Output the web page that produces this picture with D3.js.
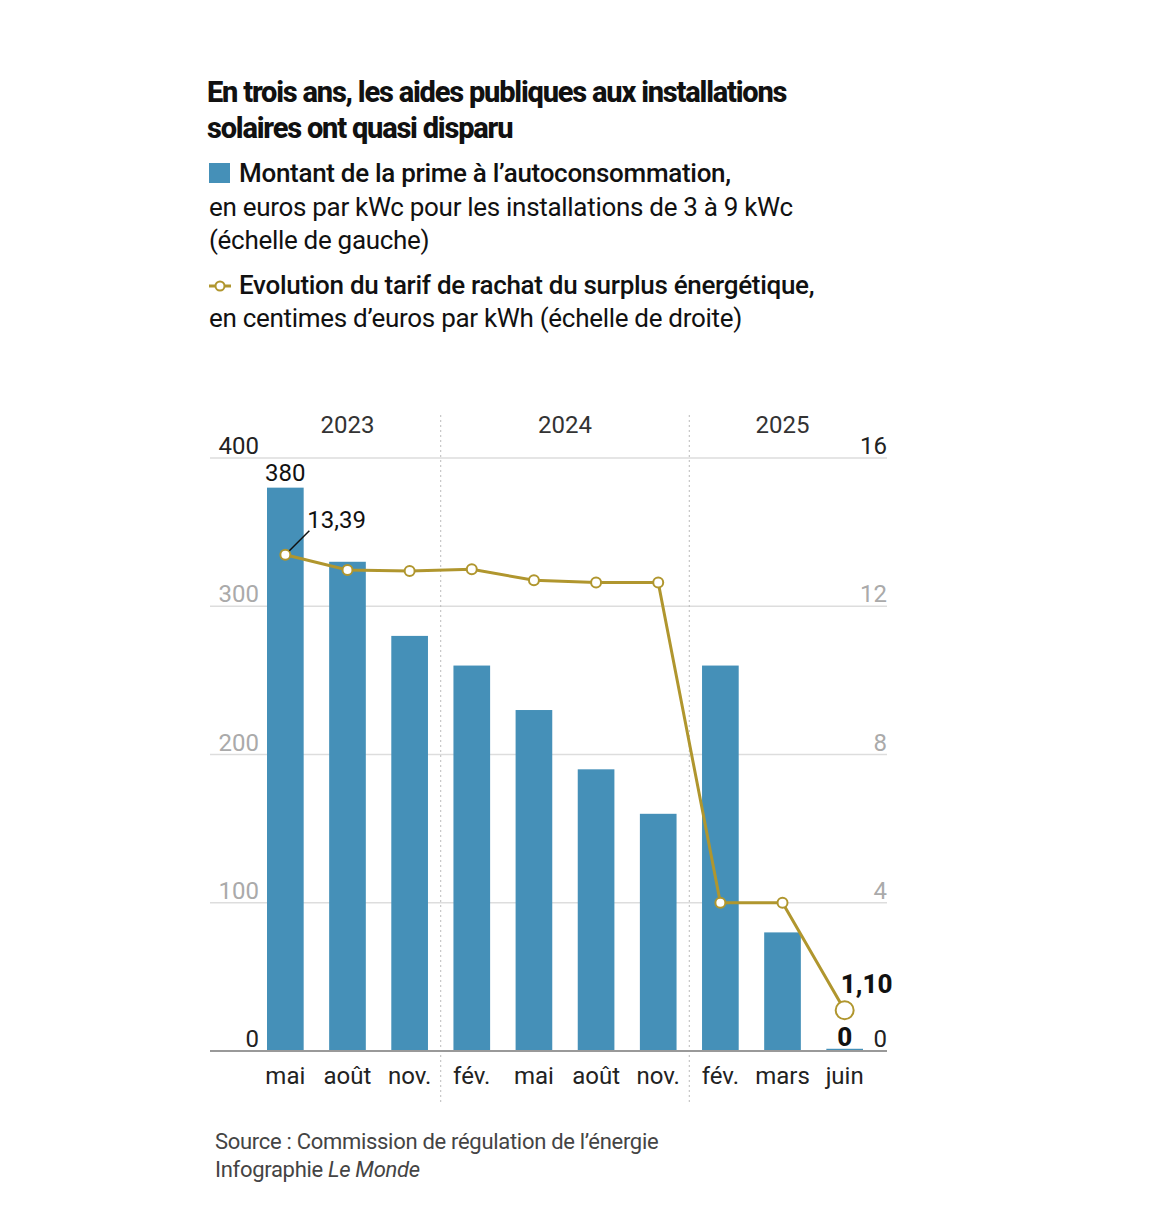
<!DOCTYPE html><html><head><meta charset="utf-8">
<script src="https://cdn.jsdelivr.net/npm/d3@7"></script>
<style>body{margin:0;background:#fff;font-family:Roboto,"Noto Sans",sans-serif}</style></head><body>
<svg id="c" width="1168" height="1218"></svg>
<script>
const months=["mai","août","nov.","fév.","mai","août","nov.","fév.","mars","juin"];
const prime=[380,330,280,260,230,190,160,260,80,1.5];
const tarif=[13.39,12.98,12.95,13.0,12.7,12.64,12.64,4.0,4.0,1.10];
const years=[{y:"2023",from:0,to:2},{y:"2024",from:3,to:6},{y:"2025",from:7,to:9}];
const leftTicks=[0,100,200,300,400], rightTicks=[0,4,8,12,16];
const svg=d3.select("#c");
const blue="#4590b8", gold="#b0962e";
const x=d3.scaleBand().domain(d3.range(10)).range([267,863]).paddingInner(0.41).paddingOuter(0.0);
const yL=d3.scaleLinear().domain([0,400]).range([1051,458]);
const yR=d3.scaleLinear().domain([0,16]).range([1051,458]);
const cx=i=>x(i)+x.bandwidth()/2;
// titles
svg.append("text").attr("x",207).attr("y",102).attr("font-size",29).attr("font-weight",800).attr("letter-spacing",-1.2).attr("fill","#111").text("En trois ans, les aides publiques aux installations");
svg.append("text").attr("x",207).attr("y",138).attr("font-size",29).attr("font-weight",800).attr("letter-spacing",-1.2).attr("fill","#111").text("solaires ont quasi disparu");
svg.append("rect").attr("x",209).attr("y",163).attr("width",21).attr("height",20).attr("fill",blue);
const L=(y,t,b)=>svg.append("text").attr("x",b?239:209).attr("y",y).attr("font-size",26).attr("font-weight",b?500:400).attr("fill","#111").attr("letter-spacing",-0.3).text(t);
L(182,"Montant de la prime à l’autoconsommation,",1);
L(216,"en euros par kWc pour les installations de 3 à 9 kWc");
L(249,"(échelle de gauche)");
svg.append("line").attr("x1",209).attr("x2",231).attr("y1",286).attr("y2",286).attr("stroke",gold).attr("stroke-width",3);
svg.append("circle").attr("cx",220).attr("cy",286).attr("r",4.5).attr("fill","#fff").attr("stroke",gold).attr("stroke-width",2);
L(294,"Evolution du tarif de rachat du surplus énergétique,",1);
L(327,"en centimes d’euros par kWh (échelle de droite)");
// grid
svg.selectAll(".g").data(leftTicks.slice(1)).join("line").attr("x1",210).attr("x2",887).attr("y1",d=>yL(d)).attr("y2",d=>yL(d)).attr("stroke","#ddd").attr("stroke-width",1.5);
svg.selectAll(".lt").data(leftTicks).join("text").attr("x",259).attr("y",d=>yL(d)-4).attr("text-anchor","end").attr("font-size",24).attr("fill",d=>d==0||d==400?"#222":"#aaa").text(d=>d);
svg.selectAll(".rt").data(rightTicks).join("text").attr("x",887).attr("y",d=>yR(d)-4).attr("text-anchor","end").attr("font-size",24).attr("fill",d=>d==0||d==16?"#222":"#aaa").text(d=>d);
// separators
[2,6].forEach(i=>{const sx=(cx(i)+cx(i+1))/2;svg.append("line").attr("x1",sx).attr("x2",sx).attr("y1",415).attr("y2",1105).attr("stroke","#bbb").attr("stroke-dasharray","2,3");});
years.forEach(o=>svg.append("text").attr("x",(cx(o.from)+cx(o.to))/2).attr("y",433).attr("text-anchor","middle").attr("font-size",24).attr("fill","#333").text(o.y));
// bars
svg.selectAll(".b").data(prime).join("rect").attr("x",(d,i)=>x(i)).attr("width",x.bandwidth()).attr("y",d=>yL(d)).attr("height",d=>yL(0)-yL(d)).attr("fill",blue);
svg.append("line").attr("x1",210).attr("x2",887).attr("y1",1051).attr("y2",1051).attr("stroke","#999").attr("stroke-width",2);
svg.selectAll(".m").data(months).join("text").attr("x",(d,i)=>cx(i)).attr("y",1084).attr("text-anchor","middle").attr("font-size",24).attr("fill","#222").text(d=>d);
// line
svg.append("path").datum(tarif).attr("d",d3.line().x((d,i)=>cx(i)).y(d=>yR(d))).attr("fill","none").attr("stroke",gold).attr("stroke-width",3);
svg.selectAll(".p").data(tarif).join("circle").attr("cx",(d,i)=>cx(i)).attr("cy",d=>yR(d)).attr("r",(d,i)=>i==9?9:5).attr("fill","#fff").attr("stroke",gold).attr("stroke-width",2);
// labels
svg.append("text").attr("x",cx(0)).attr("y",yL(380)-7).attr("text-anchor","middle").attr("font-size",24).attr("fill","#111").text("380");
svg.append("line").attr("x1",cx(0)+4).attr("y1",yR(13.39)-4).attr("x2",cx(0)+24).attr("y2",yR(13.39)-24).attr("stroke","#111").attr("stroke-width",1.5);
svg.append("text").attr("x",cx(0)+22).attr("y",yR(13.39)-27).attr("font-size",24).attr("fill","#111").text("13,39");
svg.append("text").attr("x",cx(9)+22).attr("y",yR(1.1)-17).attr("text-anchor","middle").attr("font-size",26).attr("font-weight",800).attr("stroke","#fff").attr("stroke-width",4).attr("paint-order","stroke").attr("fill","#111").text("1,10");
svg.append("text").attr("x",cx(9)).attr("y",1046).attr("text-anchor","middle").attr("font-size",26).attr("font-weight",800).attr("stroke","#fff").attr("stroke-width",4).attr("paint-order","stroke").attr("fill","#111").text("0");
// source
svg.append("text").attr("x",215).attr("y",1149).attr("font-size",22).attr("fill","#444").attr("letter-spacing",-0.3).text("Source : Commission de régulation de l’énergie");
const t=svg.append("text").attr("x",215).attr("y",1177).attr("font-size",22).attr("fill","#444").attr("letter-spacing",-0.3);
t.append("tspan").text("Infographie ");t.append("tspan").attr("font-style","italic").text("Le Monde");
</script></body></html>
